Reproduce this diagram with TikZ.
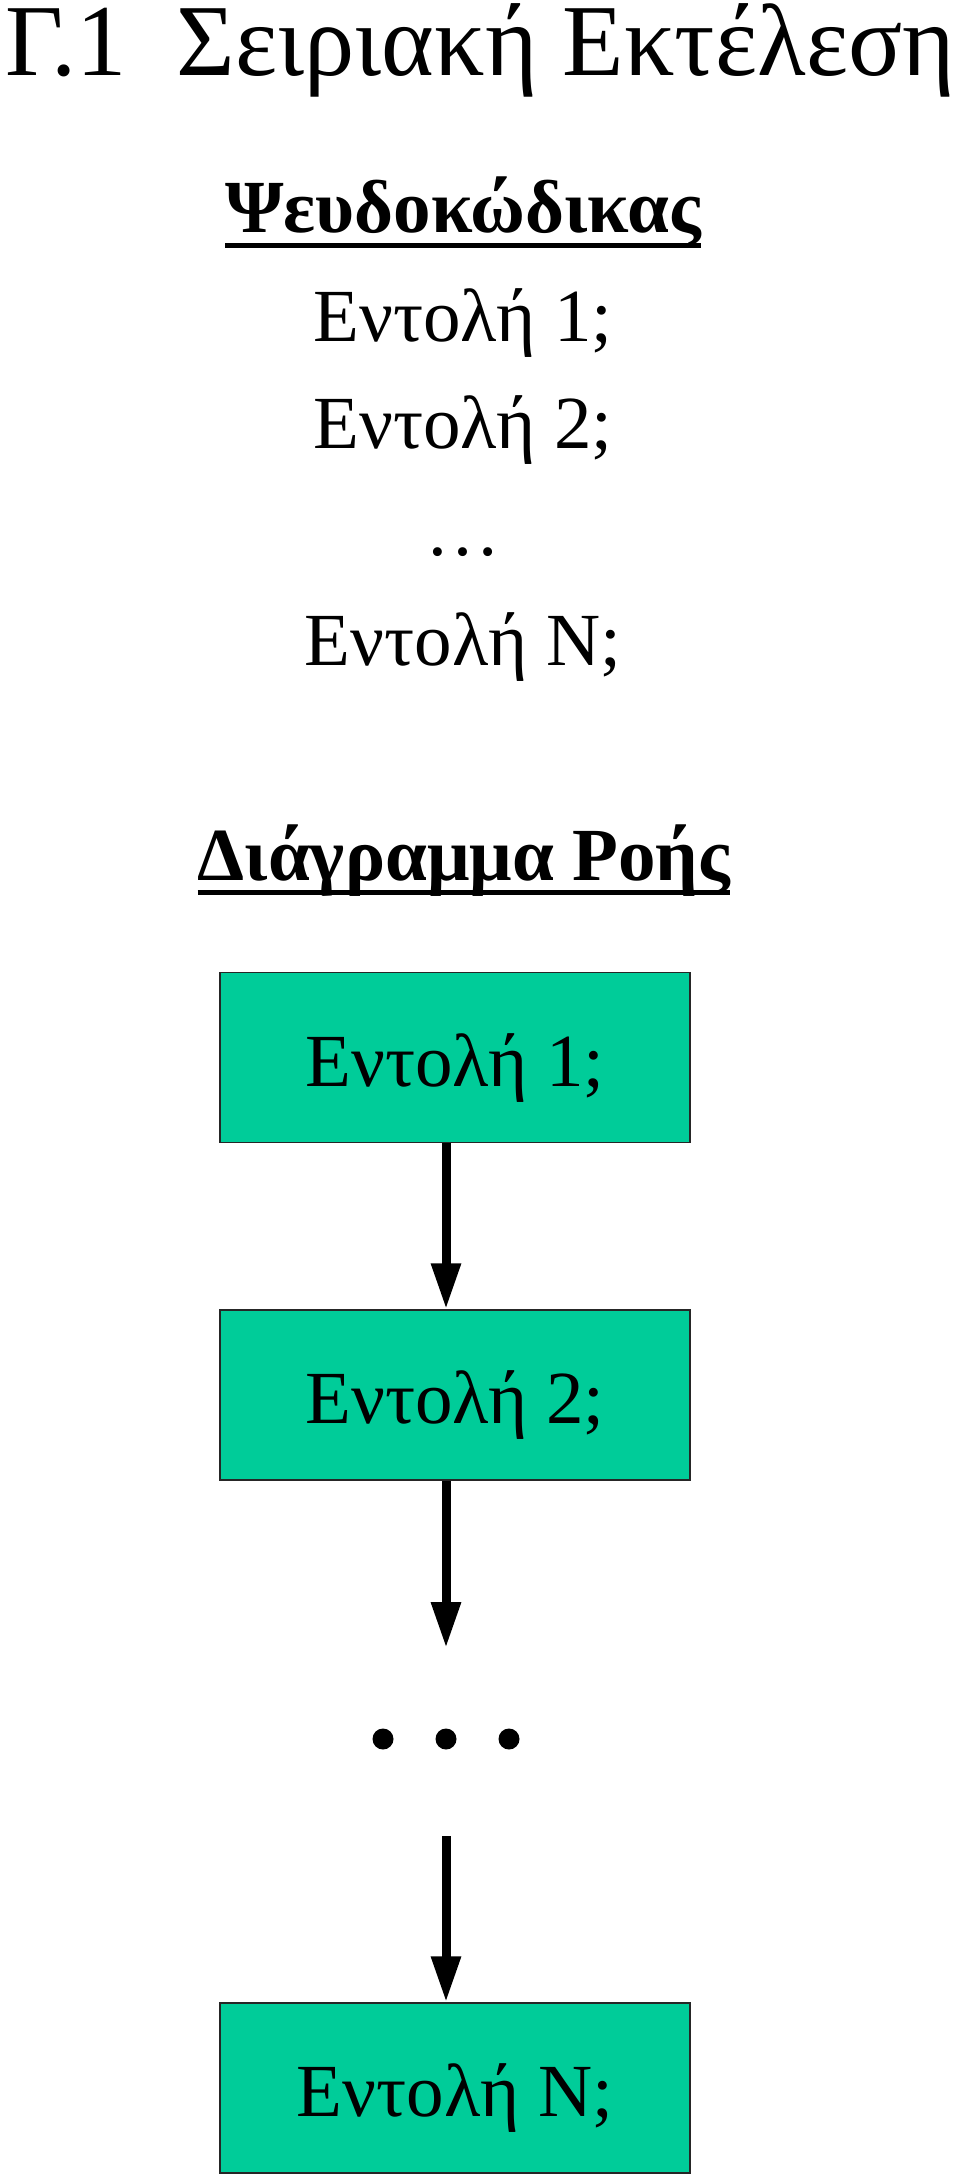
\documentclass[tikz,border=0pt]{standalone}
\usepackage{fontspec}
\setmainfont{Liberation Serif}
\usetikzlibrary{arrows.meta}
\definecolor{boxgreen}{RGB}{0,204,153}
\begin{document}
\begin{tikzpicture}[x=1pt,y=-1pt,
  body/.style={anchor=base,inner sep=0pt,font=\fontsize{75}{75}\selectfont},
  head/.style={anchor=base,inner sep=0pt,font=\fontsize{75}{75}\selectfont\bfseries},
  ul/.style={line width=5pt},
  stepbox/.style={draw=black!85,line width=1.5pt,fill=boxgreen,minimum width=470pt,minimum height=170pt,inner sep=0pt,text height=57pt,text depth=0pt,font=\fontsize{75}{75}\selectfont},
  flow/.style={line width=9pt,-{Triangle[length=46pt,width=28pt]}},
  dot/.style={fill=black}]
\useasboundingbox (0,0) rectangle (960,2179);
% title
\node[anchor=base west,inner sep=0pt,font=\fontsize{102}{102}\selectfont] (title) at (5,75) {\resizebox{950pt}{\height}{Γ.1\ \ Σειριακή Εκτέλεση}};
% pseudocode
\node[head] (pshead) at (463,232) {Ψευδοκώδικας};
\draw[ul] ([yshift=-13pt]pshead.base west) -- ([yshift=-13pt]pshead.base east);
\node[body] (p1) at (463,341) {Εντολή 1;};
\node[body] (p2) at (463,448) {Εντολή 2;};
\node[body] (p3) at (463,555) {…};
\node[body] (pn) at (463,665) {Εντολή N;};
% flow chart heading
\node[head] (fchead) at (464,880) {Διάγραμμα Ροής};
\draw[ul] ([yshift=-12pt]fchead.base west) -- ([yshift=-12pt]fchead.base east);
% boxes
\node[stepbox] (b1) at (455,1057.5) {Εντολή 1;};
\node[stepbox] (b2) at (455,1395) {Εντολή 2;};
\node[stepbox] (bn) at (455,2088) {Εντολή N;};
\coordinate (ax) at (446,0);
\coordinate (d1) at (446,1648);
\coordinate (d2) at (446,1836);
\fill[dot] (383,1739) circle (10.5);
\fill[dot] (446,1739) circle (10.5);
\fill[dot] (509,1739) circle (10.5);
\draw[flow] (b1.south -| ax) -- (b2.north -| ax);
\draw[flow] (b2.south -| ax) -- (d1);
\draw[flow] (d2) -- (bn.north -| ax);
\end{tikzpicture}
\end{document}
